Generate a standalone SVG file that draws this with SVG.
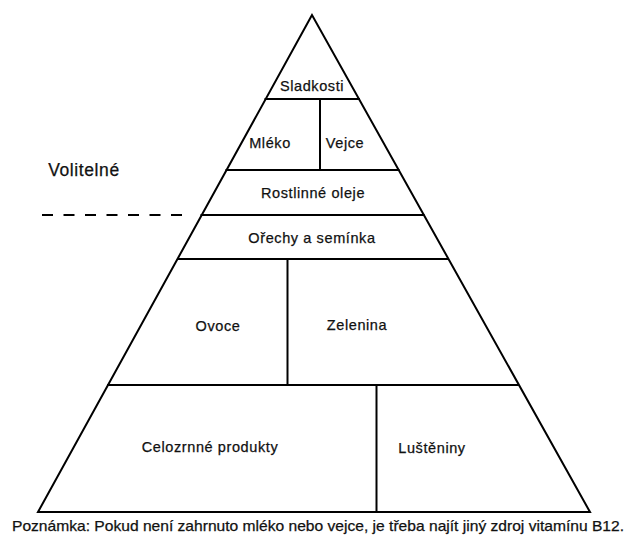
<svg xmlns="http://www.w3.org/2000/svg" width="627" height="535" viewBox="0 0 627 535">
<style>
.ln{stroke:#000;stroke-width:2;fill:none;stroke-linecap:square}
text{font-family:"Liberation Sans",Arial,sans-serif;font-size:14.5px;fill:#111;stroke:#111;stroke-width:0.25;text-anchor:middle;letter-spacing:0.6px}
</style>
<rect width="627" height="535" fill="#fff"/>
<g id="connectors">
<path class="ln" d="M312,15 L38,512 L590,512 Z" stroke-linejoin="miter"/>
<line class="ln" x1="265.5" y1="99" x2="359" y2="99"/>
<line class="ln" x1="226.5" y1="170" x2="398.5" y2="170"/>
<line class="ln" x1="201.5" y1="215" x2="423.5" y2="215"/>
<line class="ln" x1="178" y1="259" x2="447.5" y2="259"/>
<line class="ln" x1="108" y1="385" x2="518" y2="385"/>
<line class="ln" x1="320" y1="99" x2="320" y2="170"/>
<line class="ln" x1="287.5" y1="259" x2="287.5" y2="385"/>
<line class="ln" x1="376.5" y1="385" x2="376.5" y2="512"/>
<line x1="42" y1="215" x2="183" y2="215" stroke="#000" stroke-width="2" stroke-dasharray="11 10.5"/>
</g>
<g id="sladkosti"><text x="312" y="91">Sladkosti</text></g>
<g id="mleko"><text x="270" y="148">Mléko</text></g>
<g id="vejce"><text x="345" y="148">Vejce</text></g>
<g id="oleje"><text x="313" y="198">Rostlinné oleje</text></g>
<g id="orechy"><text x="312" y="243">Ořechy a semínka</text></g>
<g id="ovoce"><text x="218" y="331">Ovoce</text></g>
<g id="zelenina"><text x="357" y="330">Zelenina</text></g>
<g id="celozrnne"><text x="210" y="452">Celozrnné produkty</text></g>
<g id="lusteniny"><text x="432" y="453">Luštěniny</text></g>
<g id="volitelne"><text x="84" y="176" style="font-size:17.5px">Volitelné</text></g>
<g id="note"><text x="318" y="531" style="font-size:15px;letter-spacing:0" textLength="612" lengthAdjust="spacingAndGlyphs">Poznámka: Pokud není zahrnuto mléko nebo vejce, je třeba najít jiný zdroj vitamínu B12.</text></g>
</svg>
